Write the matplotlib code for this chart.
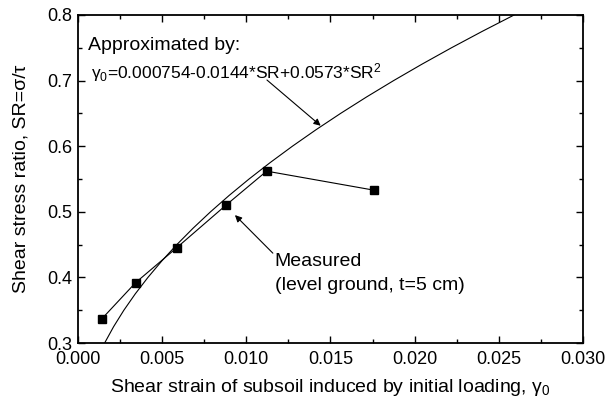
import matplotlib.pyplot as plt
from matplotlib.ticker import MultipleLocator

plt.rcParams['font.family'] = ['Liberation Sans', 'DejaVu Sans']
plt.rcParams['mathtext.default'] = 'regular'

# measured points (level ground, t=5 cm)
strain_meas = [0.00143, 0.00343, 0.00586, 0.00879, 0.01121, 0.01758]
sr_meas = [0.337, 0.392, 0.445, 0.510, 0.562, 0.533]

# approximation curve (SR vs gamma0)
sr_fit = [0.300, 0.325, 0.350, 0.375, 0.400, 0.425, 0.450, 0.475, 0.500,
          0.525, 0.550, 0.575, 0.600, 0.625, 0.650, 0.675, 0.700, 0.725,
          0.750, 0.775, 0.800]
strain_fit = [0.001591, 0.002126, 0.002733, 0.003412, 0.004162, 0.004984,
              0.005877, 0.006842, 0.007879, 0.008987, 0.010167, 0.011419,
              0.012742, 0.014137, 0.015603, 0.017141, 0.018751, 0.020432,
              0.022185, 0.024010, 0.025906]

fig = plt.figure(figsize=(6.08, 4.05), dpi=100)
ax = fig.add_axes([0.128, 0.153, 0.831, 0.810])

ax.plot(strain_fit, sr_fit, color='black', lw=0.8)
ax.plot(strain_meas, sr_meas, color='black', lw=0.8, marker='s',
        markersize=6, markerfacecolor='black')

ax.set_xlim(0.0, 0.030)
ax.set_ylim(0.3, 0.8)
ax.xaxis.set_major_locator(MultipleLocator(0.005))
ax.xaxis.set_minor_locator(MultipleLocator(0.0025))
ax.yaxis.set_major_locator(MultipleLocator(0.1))
ax.yaxis.set_minor_locator(MultipleLocator(0.05))
ax.xaxis.set_major_formatter(plt.FormatStrFormatter('%.3f'))
ax.yaxis.set_major_formatter(plt.FormatStrFormatter('%.1f'))
ax.tick_params(which='both', direction='in', top=True, right=True,
               labelsize=13, width=1.0)
ax.tick_params(which='major', length=5)
ax.tick_params(which='minor', length=3)
ax.tick_params(axis='x', which='major', pad=6)
ax.tick_params(axis='y', which='major', pad=4)
for s in ax.spines.values():
    s.set_linewidth(1.3)

ax.set_xlabel('Shear strain of subsoil induced by initial loading, γ$_0$',
              fontsize=14, labelpad=6)
ax.set_ylabel('Shear stress ratio, SR=σ/τ', fontsize=14, labelpad=13)

ax.text(0.0006, 0.753, 'Approximated by:', fontsize=14, va='center')
ax.text(0.0008, 0.713, 'γ$_0$=0.000754-0.0144*SR+0.0573*SR$^2$',
        fontsize=12.5, va='center')
ax.annotate('', xy=(0.01442, 0.6312), xytext=(0.01123, 0.7009),
            arrowprops=dict(arrowstyle='-|>', color='black', lw=0.8,
                            mutation_scale=10, shrinkA=0, shrinkB=0))

ax.text(0.01170, 0.425, 'Measured', fontsize=14, va='center')
ax.text(0.01170, 0.387, '(level ground, t=5 cm)', fontsize=14, va='center')
ax.annotate('', xy=(0.00933, 0.495), xytext=(0.01158, 0.437),
            arrowprops=dict(arrowstyle='-|>', color='black', lw=0.8,
                            mutation_scale=10, shrinkA=0, shrinkB=0))

fig.savefig('out.png', dpi=100)
